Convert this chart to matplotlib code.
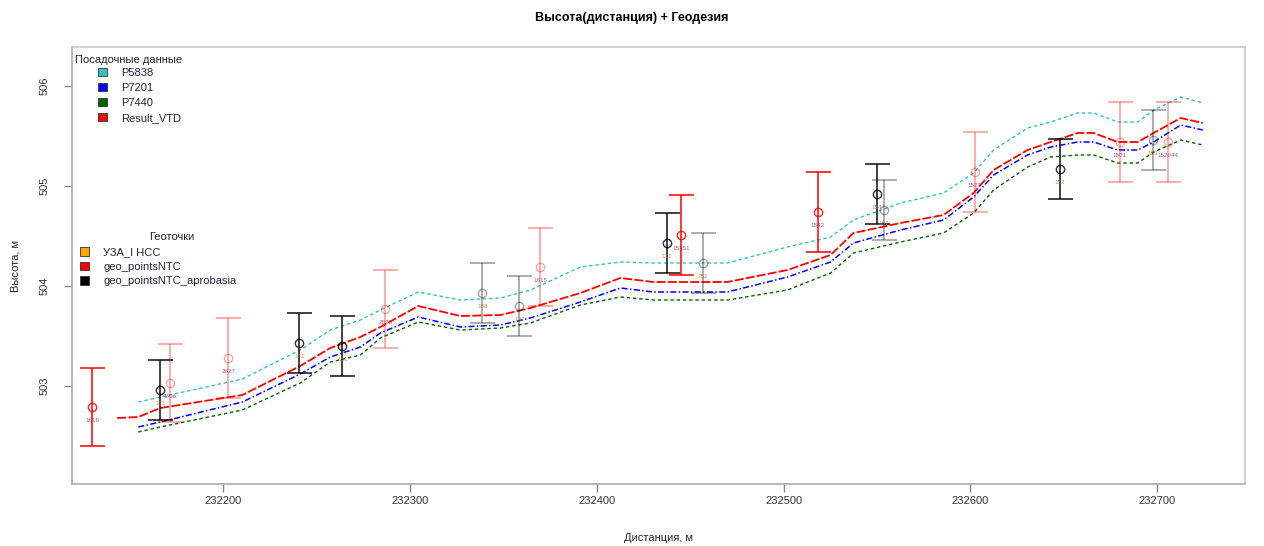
import numpy as np
import matplotlib
matplotlib.use("Agg")
import matplotlib.pyplot as plt
from matplotlib.patches import Patch
from matplotlib.ticker import FixedLocator, FuncFormatter

plt.rcParams['font.family'] = ['Liberation Sans', 'DejaVu Sans']

# ---------------- data ----------------
nan = np.nan
distance = [232143.2, 232154.5, 232166.3, 232210.2, 232241.2, 232257.3, 232273.4, 232284.1,
            232304.4, 232326.9, 232348.4, 232364.4, 232391.2, 232412.6, 232430.3, 232469.9,
            232502.1, 232525.1, 232537.4, 232562.6, 232585.6, 232601.7, 232612.4, 232630.6,
            232643.0, 232657.4, 232666.0, 232678.8, 232689.6, 232698.1, 232712.6, 232724.4]
h_P5838 = [nan, 502.84, 502.89, 503.07, 503.36, 503.56, 503.66, 503.76, 503.94, 503.86, 503.88,
           503.96, 504.19, 504.24, 504.23, 504.23, 504.39, 504.49, 504.66, 504.83, 504.93, 505.13,
           505.36, 505.58, 505.64, 505.73, 505.73, 505.64, 505.64, 505.76, 505.89, 505.83]
h_P7201 = [nan, 502.59, 502.64, 502.84, 503.12, 503.29, 503.39, 503.53, 503.69, 503.59, 503.61,
           503.68, 503.84, 503.98, 503.94, 503.94, 504.09, 504.24, 504.43, 504.56, 504.66, 504.89,
           505.11, 505.31, 505.39, 505.44, 505.44, 505.36, 505.36, 505.44, 505.61, 505.56]
h_P7440 = [nan, 502.54, 502.59, 502.76, 503.03, 503.24, 503.31, 503.48, 503.64, 503.56, 503.58,
           503.63, 503.81, 503.89, 503.86, 503.86, 503.96, 504.13, 504.33, 504.44, 504.53, 504.73,
           504.96, 505.19, 505.29, 505.31, 505.31, 505.23, 505.23, 505.34, 505.46, 505.41]
h_Result_VTD = [502.68, 502.69, 502.78, 502.91, 503.20, 503.38, 503.49, 503.59, 503.80, 503.70,
                503.71, 503.78, 503.93, 504.08, 504.04, 504.04, 504.16, 504.31, 504.53, 504.63,
                504.71, 504.93, 505.16, 505.36, 505.44, 505.53, 505.53, 505.44, 505.44, 505.53,
                505.68, 505.63]

# geo_pointsNTC (red)
ntc_d = [232129.8, 232445.3, 232518.2]
ntc_h = [502.79, 504.51, 504.74]
ntc_err = [0.39, 0.40, 0.40]
ntc_lbl = ['1616', '15251', '1542']
ntc_faint_d = [232171.6, 232202.7, 232286.8, 232369.8, 232602.3, 232679.9, 232705.6]
ntc_faint_h = [503.03, 503.28, 503.77, 504.19, 505.14, 505.44, 505.44]
ntc_faint_err = [0.39, 0.40, 0.39, 0.39, 0.40, 0.40, 0.40]
ntc_faint_lbl = ['3606', '2627', '2628', '1615', '1527', '1501', '152044']

# geo_pointsNTC_aprobasia (black)
apr_d = [232166.3, 232240.7, 232263.7, 232437.3, 232549.8, 232647.8]
apr_h = [502.96, 503.43, 503.40, 504.43, 504.92, 505.17]
apr_err = [0.30, 0.30, 0.30, 0.30, 0.30, 0.30]
apr_lbl = ['171', '171', '151', '171', '154', '152']
apr_faint_d = [232338.7, 232358.5, 232456.6, 232553.5, 232697.6]
apr_faint_h = [503.93, 503.80, 504.23, 504.76, 505.46]
apr_faint_err = [0.30, 0.30, 0.30, 0.30, 0.30]
apr_faint_lbl = ['188', '132', '252', '157', '153']

x_ticks = [232200, 232300, 232400, 232500, 232600, 232700]
y_ticks = [503, 504, 505, 506]

line_names = ['P5838', 'P7201', 'P7440', 'Result_VTD']
geo_names = ['УЗА_I НСС', 'geo_pointsNTC', 'geo_pointsNTC_aprobasia']

# ---------------- plot ----------------
fig = plt.figure(figsize=(12.64, 5.46), dpi=100)
ax = fig.add_axes([72/1264, 62/546, (1245-72)/1264, (484-47)/546])

c_cyan, c_blue, c_green, c_red = '#2EC4C4', '#0000FF', '#006400', '#FF0000'

ax.plot(distance, h_P5838, color=c_cyan, lw=1.0, ls=(0, (2.5, 2)))
ax.plot(distance, h_P7440, color=c_green, lw=1.0, ls=(0, (2.5, 2)))
ax.plot(distance, h_P7201, color=c_blue, lw=1.1, ls=(0, (4, 1.5, 1, 1.5)))
ax.plot(distance, h_Result_VTD, color=c_red, lw=1.3, ls=(0, (5, 1.2)))

def bars(d, h, e, col, alpha):
    ax.errorbar(d, h, yerr=e, fmt='o', color=col, mfc='none', mec=col, ms=6,
                capsize=9, elinewidth=1.3, capthick=1.3, alpha=alpha, zorder=4)

bars(ntc_faint_d, ntc_faint_h, ntc_faint_err, 'red', 0.35)
bars(apr_faint_d, apr_faint_h, apr_faint_err, 'black', 0.35)
bars(ntc_d, ntc_h, ntc_err, 'red', 0.85)
bars(apr_d, apr_h, apr_err, 'black', 0.8)

def labels(d, h, lbl, col):
    for xi, yi, t in zip(d, h, lbl):
        ax.annotate(t, (xi, yi), xytext=(0, -10), textcoords='offset points',
                    ha='center', va='center', fontsize=4.5, color=col, alpha=0.8, zorder=5)

labels(ntc_d, ntc_h, ntc_lbl, '#A03050')
labels(ntc_faint_d, ntc_faint_h, ntc_faint_lbl, '#A03050')
labels(apr_d, apr_h, apr_lbl, '#C07030')
labels(apr_faint_d, apr_faint_h, apr_faint_lbl, '#C07030')

ax.set_xlim(232119, 232747)
ax.set_ylim(502.02, 506.39)
ax.xaxis.set_major_locator(FixedLocator(x_ticks))
ax.yaxis.set_major_locator(FixedLocator(y_ticks))
ax.xaxis.set_major_formatter(FuncFormatter(lambda v, p: f"{v:.0f}"))
ax.yaxis.set_major_formatter(FuncFormatter(lambda v, p: f"{v:.0f}"))
for lab in ax.get_yticklabels():
    lab.set_rotation(90)
    lab.set_va('center')
ax.tick_params(axis='both', direction='out', length=6, width=1, color='#888888',
               labelsize=8, labelcolor='#333333')
ax.tick_params(axis='x', pad=3)
ax.tick_params(axis='y', pad=10)
for sp in ax.spines.values():
    sp.set_color('#C8C8C8')
    sp.set_linewidth(1.2)
ax.spines['left'].set_color('#AAAAAA')
ax.spines['bottom'].set_color('#AAAAAA')

ax.set_xlabel('Дистанция, м', fontsize=8, labelpad=19, color='#222222')
ax.set_ylabel('Высота, м', fontsize=8, labelpad=14, color='#222222')
fig.suptitle('Высота(дистанция) + Геодезия', fontsize=9, fontweight='bold', y=1 - 18/546,
             va='center')

# legends
h1 = [Patch(facecolor=c, edgecolor='#333333', lw=0.6) for c in [c_cyan, c_blue, c_green, c_red]]
leg1 = ax.legend(h1, line_names, loc='upper left', bbox_to_anchor=(0.022, 0.953),
                 frameon=False, fontsize=8, handlelength=0.8, handleheight=0.8,
                 handletextpad=1.3, labelspacing=0.45, borderpad=0, borderaxespad=0)
for t in leg1.get_texts():
    t.set_color('#222244')
ax.add_artist(leg1)
ax.text(0.0026, 0.970, 'Посадочные данные', transform=ax.transAxes, fontsize=8,
        ha='left', va='center', color='#222222')

h2 = [Patch(facecolor=c, edgecolor='#333333', lw=0.6) for c in ['#FFA500', '#FF0000', '#000000']]
leg2 = ax.legend(h2, geo_names, loc='upper left', bbox_to_anchor=(0.0068, 0.542),
                 frameon=False, fontsize=8, handlelength=0.8, handleheight=0.8,
                 handletextpad=1.3, labelspacing=0.4, borderpad=0, borderaxespad=0)
for t in leg2.get_texts():
    t.set_color('#222244')
ax.text(0.085, 0.565, 'Геоточки', transform=ax.transAxes, fontsize=8,
        ha='center', va='center', color='#222222')

fig.savefig('out.png', dpi=100)
